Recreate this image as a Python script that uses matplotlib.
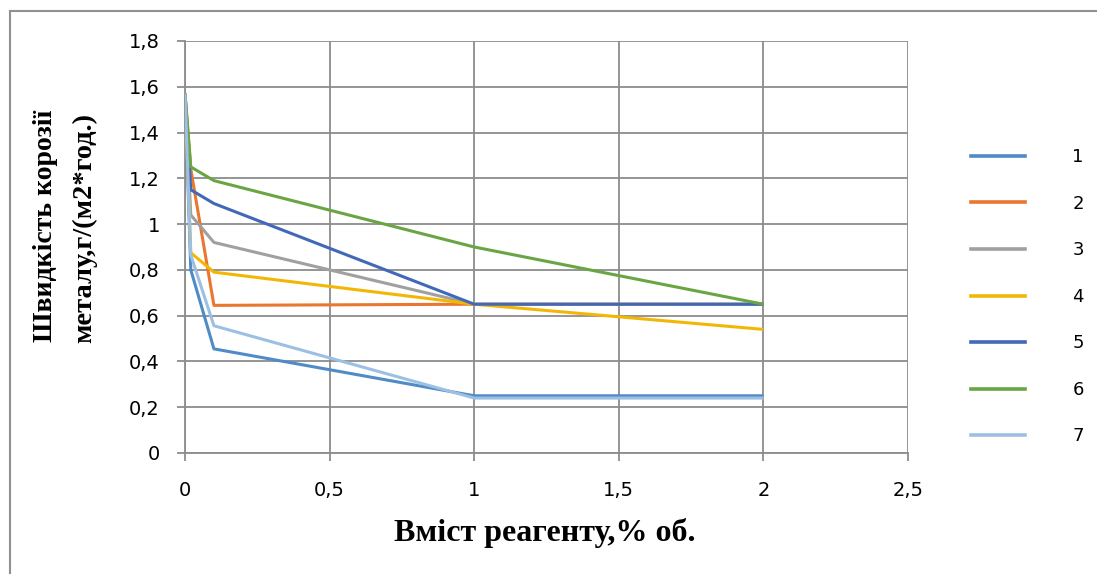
import matplotlib
matplotlib.use("Agg")
import matplotlib.pyplot as plt
from matplotlib.lines import Line2D
from matplotlib.ticker import FuncFormatter

# ---------------- DATA ---------------- #
conc = [0, 0.02, 0.1, 1, 2]

series_names = ["1", "2", "3", "4", "5", "6", "7"]
s1 = [1.57, 0.80, 0.455, 0.25, 0.25]
s2 = [1.57, 1.24, 0.645, 0.65, 0.65]
s3 = [1.57, 1.04, 0.92, 0.65, 0.65]
s4 = [1.57, 0.875, 0.79, 0.65, 0.54]
s5 = [1.57, 1.15, 1.09, 0.65, 0.65]
s6 = [1.57, 1.25, 1.19, 0.90, 0.65]
s7 = [1.57, 0.865, 0.556, 0.24, 0.24]
all_series = [s1, s2, s3, s4, s5, s6, s7]

colors = ["#4f8bc6", "#e9772f", "#a0a0a0", "#f2b705", "#4169b8", "#6aa544", "#9cc0e4"]

x_ticks = [0, 0.5, 1, 1.5, 2, 2.5]
y_ticks = [0, 0.2, 0.4, 0.6, 0.8, 1.0, 1.2, 1.4, 1.6, 1.8]


def comma_fmt(v, pos):
    s = f"{v:.1f}".rstrip("0").rstrip(".")
    return s.replace(".", ",")


# ---------------- PLOT ---------------- #
fig = plt.figure(figsize=(10.97, 5.74), dpi=100)
ax = fig.add_axes([185 / 1097, 1 - 453 / 574, 723 / 1097, 412 / 574])

for vals, c in zip(all_series, colors):
    ax.plot(conc, vals, color=c, linewidth=2.2, solid_capstyle="butt", zorder=3)

ax.set_xlim(0, 2.5)
ax.set_ylim(0, 1.8)
ax.set_xticks(x_ticks)
ax.set_yticks(y_ticks)
ax.xaxis.set_major_formatter(FuncFormatter(comma_fmt))
ax.yaxis.set_major_formatter(FuncFormatter(comma_fmt))
ax.grid(True, color="#8c8c8c", linewidth=1.3)
ax.set_axisbelow(True)
for side in ["top", "right"]:
    ax.spines[side].set_visible(False)
for side in ["left", "bottom"]:
    ax.spines[side].set_color("#8c8c8c")
    ax.spines[side].set_linewidth(1.3)
ax.tick_params(axis="both", direction="out", length=6, width=1.3, color="#8c8c8c",
               labelsize=14)
for lbl in ax.get_xticklabels() + ax.get_yticklabels():
    lbl.set_fontfamily("DejaVu Sans")
ax.tick_params(axis="y", pad=12)
ax.tick_params(axis="x", pad=14)

# axis titles
fig.text(545 / 1097, 1 - 533 / 574, "Вміст реагенту,% об.", ha="center", va="center",
         fontsize=23, fontweight="bold", family="Liberation Serif")
fig.text(46 / 1097, 1 - 226 / 574, "Швидкість корозії", ha="center", va="center",
         rotation=90, fontsize=20, fontweight="bold", family="Liberation Serif")
fig.text(85 / 1097, 1 - 228 / 574, "металу,г/(м2*год.)", ha="center", va="center",
         rotation=90, fontsize=20.5, fontweight="bold", family="Liberation Serif")

# legend
handles = [Line2D([0], [0], color=c, linewidth=2.6) for c in colors]
leg = fig.legend(handles, series_names, loc="upper left",
                 bbox_to_anchor=(955 / 1097, 1 - 132 / 574),
                 frameon=False, handlelength=3.0, handletextpad=2.6,
                 labelspacing=1.58, prop={"family": "DejaVu Sans", "size": 13})

# outer chart frame (top and left edges visible)
fig.add_artist(Line2D([10 / 1097, 1], [1 - 11 / 574, 1 - 11 / 574], color="#909090", linewidth=1.5))
fig.add_artist(Line2D([10 / 1097, 10 / 1097], [0, 1 - 11 / 574], color="#909090", linewidth=1.5))

fig.savefig("out.png", dpi=100)
